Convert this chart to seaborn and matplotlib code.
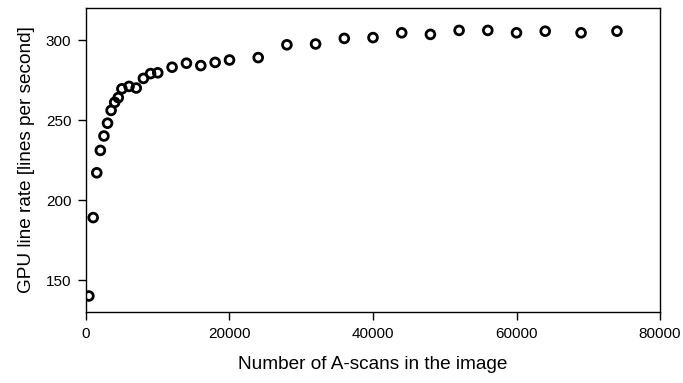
import numpy as np
import pandas as pd
import matplotlib
matplotlib.use("Agg")
import matplotlib.pyplot as plt
import seaborn as sns

# number of A-scans per image and measured GPU line rate
a_scans = [400, 1000, 1500, 2000, 2500, 3000, 3500, 4000, 4500, 5000,
           6000, 7000, 8000, 9000, 10000, 12000, 14000, 16000, 18000, 20000,
           24000, 28000, 32000, 36000, 40000, 44000, 48000, 52000, 56000,
           60000, 64000, 69000, 74000]
line_rate = [140, 189, 217, 231, 240, 248, 256, 261, 264, 269.5,
             271, 270, 276, 279, 279.5, 283, 285.5, 284, 286, 287.5,
             289, 297, 297.5, 301, 301.5, 304.5, 303.5, 306, 306,
             304.5, 305.5, 304.5, 305.5]

df = pd.DataFrame({"scans": a_scans, "rate": line_rate})

sns.set_style("ticks")
plt.rcParams["font.family"] = ["Liberation Sans", "DejaVu Sans"]
plt.rcParams["text.color"] = "black"
plt.rcParams["axes.labelcolor"] = "black"
plt.rcParams["xtick.color"] = "black"
plt.rcParams["ytick.color"] = "black"

fig = plt.figure(figsize=(6.83, 3.83), dpi=100)
ax = fig.add_axes([86 / 683, 71 / 383, 574 / 683, 304 / 383])

sns.scatterplot(data=df, x="scans", y="rate", ax=ax, marker="o", s=40,
                facecolor="none", edgecolor="black", linewidth=2)

ax.set_xlim(0, 80000)
ax.set_ylim(130, 320)
ax.set_xticks([0, 20000, 40000, 60000, 80000])
ax.set_yticks([150, 200, 250, 300])
ax.tick_params(direction="out", length=5.5, width=1, labelsize=11,
               top=False, right=False)
ax.tick_params(axis="x", pad=5)
ax.tick_params(axis="y", pad=5)
for s in ax.spines.values():
    s.set_linewidth(1)
    s.set_color("black")

ax.set_xlabel("Number of A-scans in the image", fontsize=13.7, labelpad=11)
ax.set_ylabel("GPU line rate [lines per second]", fontsize=13.7, labelpad=8)

fig.savefig("out.png", dpi=100)
